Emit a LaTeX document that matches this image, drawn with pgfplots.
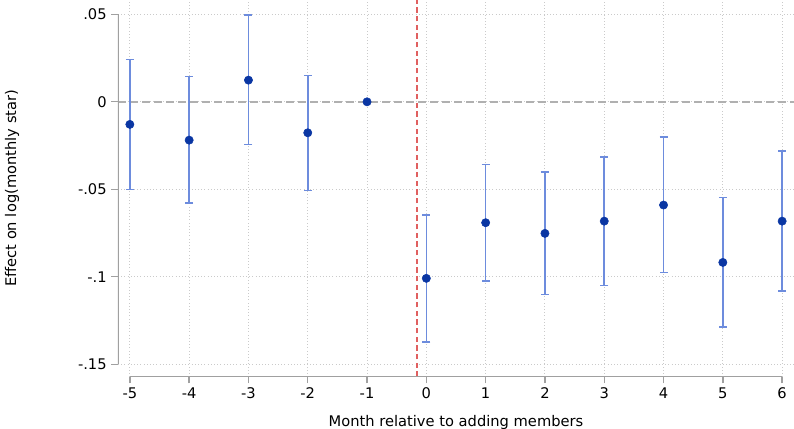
\documentclass[border=0pt]{standalone}
\usepackage{fontspec}
\setmainfont{DejaVu Sans}
\usepackage{pgfplots}
\pgfplotsset{compat=1.18}
\usepackage{pgfplotstable}
\definecolor{ptblue}{HTML}{0A36A3}
\definecolor{cibl}{HTML}{6D8CDD}
\definecolor{vred}{RGB}{224,96,96}
\definecolor{axgray}{HTML}{A0A0A0}
\definecolor{gridg}{HTML}{CACACA}
\definecolor{zerog}{HTML}{B0B0B0}

\pgfplotstableread{
x y ep em
-5 -0.0129 0.0371 0.0372
-4 -0.0219 0.0364 0.0361
-3 0.0124 0.0371 0.0368
-2 -0.0177 0.0328 0.0329
-1 0 0 0
0 -0.1009 0.0362 0.0364
1 -0.0691 0.0333 0.0334
2 -0.0752 0.0350 0.0349
3 -0.0682 0.0368 0.0369
4 -0.0590 0.0390 0.0385
5 -0.0918 0.0372 0.0369
6 -0.0682 0.0402 0.0398
}\coefdata

\begin{document}
\begin{tikzpicture}
\begin{axis}[name=ax,
  scale only axis, width=507pt, height=282.5pt,
  xmin=-5.2, xmax=6.2, ymin=-0.1571, ymax=0.0582,
  axis line style={draw=none},
  xtick={-5,-4,-3,-2,-1,0,1,2,3,4,5,6},
  xticklabels={-5,-4,-3,-2,-1,0,1,2,3,4,5,6},
  ytick={-0.15,-0.1,-0.05,0,0.05},
  yticklabels={-.15,-.1,-.05,0,.05},
  xtick pos=lower, ytick pos=left,
  tick align=outside, major tick length=5pt,
  tick style={axgray, line width=1pt},
  ticklabel style={font=\fontsize{11}{13}\selectfont, text=black},
  grid=major, major grid style={gridg, dotted, line width=0.8pt},
  xlabel={Month relative to adding members},
  ylabel={Effect on log(monthly star)},
  every axis x label/.style={at={(axis description cs:0.5,-0.131)}, anchor=base, font=\fontsize{11}{13}\selectfont},
  every axis y label/.style={at={(axis description cs:-0.1568,0.5)}, rotate=90, anchor=center, font=\fontsize{11}{13}\selectfont},
]
\draw[zerog, line width=1.1pt, dash pattern=on 6pt off 3pt] (axis cs:-5.2,0) -- (axis cs:6.2,0);
\draw[color=vred, line width=1.4pt, dash pattern=on 4pt off 2.5pt] (axis cs:-0.165,-0.1571) -- (axis cs:-0.165,0.0582);
\addplot[only marks, mark=*, mark size=3.1pt, mark options={draw=ptblue, fill=ptblue},
  error bars/.cd, y dir=both, y explicit,
  error bar style={color=cibl, line width=1.2pt},
  error mark options={rotate=90, color=cibl, mark size=3pt, line width=1.2pt}]
  table[x=x, y=y, y error plus=ep, y error minus=em] {\coefdata};
\draw[axgray, line width=1.3pt] (axis cs:-5.2,-0.15) -- (axis cs:-5.2,0.05);
\draw[axgray, line width=1.3pt] (axis cs:-5,-0.1571) -- (axis cs:6,-0.1571);
\end{axis}
\pgfresetboundingbox
\path[use as bounding box] ([shift={(-88.5pt,-38.5pt)}]ax.south west) rectangle (ax.north east);
\end{tikzpicture}
\end{document}
